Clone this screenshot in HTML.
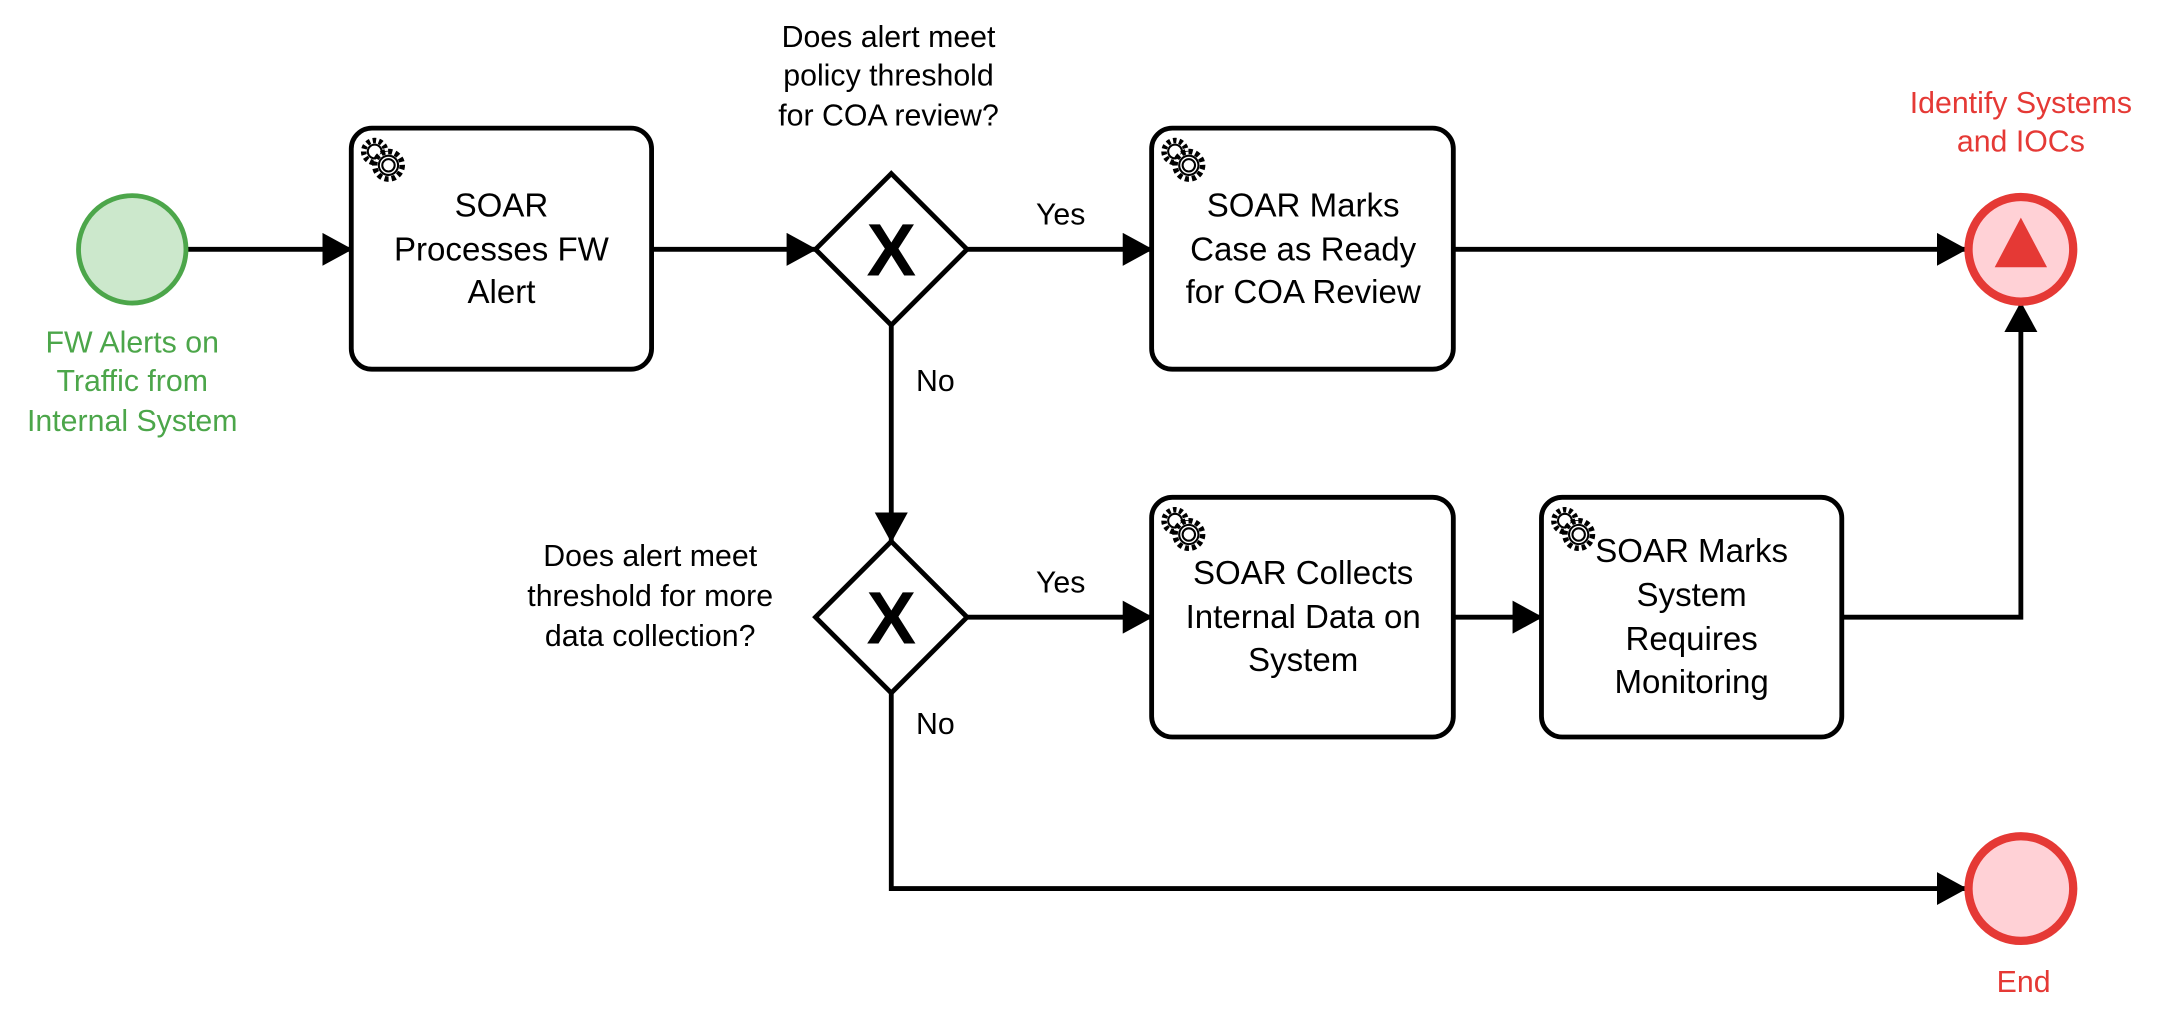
<!DOCTYPE html>
<html><head><meta charset="utf-8"><style>
html,body{margin:0;padding:0;background:#fff;width:2160px;height:1023px;overflow:hidden}
svg{display:block}
</style></head><body>
<svg width="2160" height="1023" viewBox="0 0 1568 742.6" preserveAspectRatio="none" xmlns="http://www.w3.org/2000/svg" font-family="Liberation Sans, Arial, sans-serif">
<defs>
<marker id="a" markerWidth="22" markerHeight="24" refX="21" refY="12" orient="auto" markerUnits="userSpaceOnUse" viewBox="0 0 22 24">
<path d="M0,0 L22,12 L0,24 z" fill="#000"/></marker>
<g id="gear" fill="none" stroke="#000" stroke-width="1.5">
<circle cx="11" cy="11" r="8" stroke-dasharray="2.5 2" stroke-width="4"/>
<circle cx="11" cy="11" r="5"/>
<circle cx="21" cy="21" r="10" fill="#fff" stroke-dasharray="3 2.2" stroke-width="4"/>
<circle cx="21" cy="21" r="7" fill="#fff"/>
<circle cx="21" cy="21" r="4.5"/>
</g>
</defs>
<g stroke="#000" stroke-width="3.5" fill="none">
<line x1="136" y1="181" x2="255" y2="181" marker-end="url(#a)"/>
<line x1="473" y1="181" x2="592" y2="181" marker-end="url(#a)"/>
<line x1="702" y1="181" x2="836" y2="181" marker-end="url(#a)"/>
<line x1="1055" y1="181" x2="1427" y2="181" marker-end="url(#a)"/>
<line x1="647" y1="236" x2="647" y2="393" marker-end="url(#a)"/>
<line x1="702" y1="448" x2="836" y2="448" marker-end="url(#a)"/>
<line x1="1055" y1="448" x2="1119" y2="448" marker-end="url(#a)"/>
<polyline points="1337,448 1467,448 1467,220" marker-end="url(#a)"/>
<polyline points="647,503 647,645 1427,645" marker-end="url(#a)"/>
<rect x="255" y="93" width="218" height="175" rx="15"/>
<rect x="836" y="93" width="219" height="175" rx="15"/>
<rect x="836" y="361" width="219" height="174" rx="15"/>
<rect x="1119" y="361" width="218" height="174" rx="15"/>
<polygon points="647,126 702,181 647,236 592,181" fill="#fff"/>
<polygon points="647,393 702,448 647,503 592,448" fill="#fff"/>
</g>
<circle cx="96" cy="181" r="39" fill="#cce8cc" stroke="#4ca64a" stroke-width="3.5"/>
<circle cx="1467" cy="181" r="38" fill="#ffd1d6" stroke="#e53935" stroke-width="6"/>
<polygon points="1467,158 1448,194 1486,194" fill="#e53935"/>
<circle cx="1467" cy="645" r="38" fill="#ffd1d6" stroke="#e53935" stroke-width="6"/>
<use href="#gear" x="261" y="99"/>
<use href="#gear" x="842" y="99"/>
<use href="#gear" x="842" y="367"/>
<use href="#gear" x="1125" y="367"/>
<text x="647" y="200" font-size="54" font-weight="bold" text-anchor="middle">X</text>
<text x="647" y="467" font-size="54" font-weight="bold" text-anchor="middle">X</text>
<g font-size="24" text-anchor="middle" fill="#000">
<text x="364" y="157">SOAR</text><text x="364" y="189">Processes FW</text><text x="364" y="220">Alert</text>
<text x="946" y="157">SOAR Marks</text><text x="946" y="189">Case as Ready</text><text x="946" y="220">for COA Review</text>
<text x="946" y="424">SOAR Collects</text><text x="946" y="456">Internal Data on</text><text x="946" y="487">System</text>
<text x="1228" y="408">SOAR Marks</text><text x="1228" y="440">System</text><text x="1228" y="472">Requires</text><text x="1228" y="503">Monitoring</text>
</g>
<g font-size="22" text-anchor="middle" fill="#000">
<text x="645" y="34">Does alert meet</text><text x="645" y="62">policy threshold</text><text x="645" y="91">for COA review?</text>
<text x="472" y="411">Does alert meet</text><text x="472" y="440">threshold for more</text><text x="472" y="469">data collection?</text>
<text x="770" y="163">Yes</text><text x="679" y="284">No</text>
<text x="770" y="430">Yes</text><text x="679" y="533">No</text>
</g>
<g font-size="22" text-anchor="middle" fill="#4ca64a">
<text x="96" y="256">FW Alerts on</text><text x="96" y="284">Traffic from</text><text x="96" y="313">Internal System</text>
</g>
<g font-size="22" text-anchor="middle" fill="#e53935">
<text x="1467" y="82">Identify Systems</text><text x="1467" y="110">and IOCs</text>
<text x="1469" y="720">End</text>
</g>
</svg>
</body></html>
